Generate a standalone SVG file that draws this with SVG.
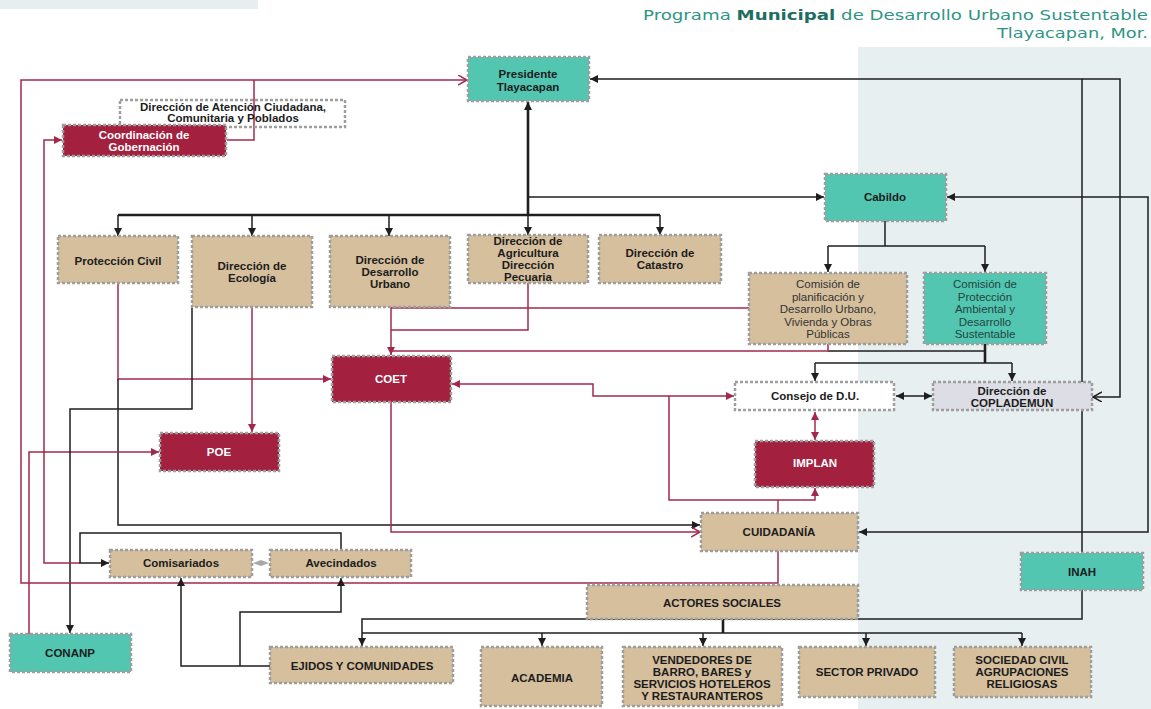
<svg xmlns="http://www.w3.org/2000/svg" width="1151" height="709" viewBox="0 0 1151 709">
<style>
.n{stroke:#9e9e9e;stroke-width:2.5;stroke-dasharray:3 2}
.tan{fill:#d6bf9d}
.crim{fill:#a3203f}
.teal{fill:#52c6b1}
.wh{fill:#ffffff}
.none{fill:none}
.cop{fill:#dcdde5}
.t{font-family:"Liberation Sans",Arial,sans-serif;font-size:11.5px;font-weight:bold;text-anchor:middle;fill:#1c1c1c}
.tw{fill:#ffffff}
.r{font-weight:normal;font-size:11.5px;fill:#333}
.rt{font-weight:normal;font-size:11.5px;fill:#24443f}
.k{stroke:#1e1e1e;stroke-width:1.5;fill:none}
.kt{stroke:#1e1e1e;stroke-width:2.6;fill:none}
.c{stroke:#a3284c;stroke-width:1.5;fill:none}
.ttl{font-family:"DejaVu Sans","Liberation Sans",sans-serif;font-size:14.5px;fill:#2f9585}
</style>
<defs>
<marker id="ak" markerUnits="userSpaceOnUse" markerWidth="10" markerHeight="10" refX="8" refY="4" orient="auto-start-reverse"><path d="M0,0 L8,4 L0,8 z" fill="#1e1e1e"/></marker>
<marker id="ac" markerUnits="userSpaceOnUse" markerWidth="10" markerHeight="10" refX="8" refY="4" orient="auto-start-reverse"><path d="M0,0 L8,4 L0,8 z" fill="#a3284c"/></marker>
<marker id="oc" markerUnits="userSpaceOnUse" markerWidth="12" markerHeight="12" refX="9" refY="5" orient="auto"><path d="M0,0 L9,5 L0,10" fill="none" stroke="#a3284c" stroke-width="1.5"/></marker>
<marker id="ok" markerUnits="userSpaceOnUse" markerWidth="12" markerHeight="12" refX="9" refY="5" orient="auto"><path d="M0,0 L9,5 L0,10" fill="none" stroke="#1e1e1e" stroke-width="1.5"/></marker>
</defs>
<rect x="0" y="0" width="1151" height="709" fill="#ffffff"/>
<rect x="0" y="0" width="258" height="9" fill="#e6eef0"/>
<rect x="858" y="47" width="293" height="662" fill="#e7eff1"/>
<text class="ttl" x="1148" y="20" text-anchor="end" textLength="505" lengthAdjust="spacingAndGlyphs">Programa <tspan font-weight="bold" fill="#1f6e63">Municipal</tspan> de Desarrollo Urbano Sustentable</text>
<text class="ttl" x="1148" y="38" text-anchor="end" textLength="151" lengthAdjust="spacingAndGlyphs">Tlayacapan, Mor.</text>

<g id="connectors">
<path class="kt" d="M528,215 V102" marker-end="url(#ak)"/>
<path class="kt" d="M118,215 H660"/>
<path class="k" d="M118,215 V236" marker-end="url(#ak)"/>
<path class="k" d="M252,215 V236" marker-end="url(#ak)"/>
<path class="k" d="M389,215 V236" marker-end="url(#ak)"/>
<path class="k" d="M528,215 V235" marker-end="url(#ak)"/>
<path class="k" d="M660,215 V235" marker-end="url(#ak)"/>
<path class="k" d="M528,197 H824" marker-end="url(#ak)"/>
<path class="k" d="M1082,553 V79 H590" marker-end="url(#ak)"/>
<path class="k" d="M1082,79 H1120 V397 H1093" marker-end="url(#ok)"/>
<path class="k" d="M947,197 H1148 V532 H859" marker-start="url(#ak)" marker-end="url(#ak)"/>
<path class="k" d="M885,221 V246"/>
<path class="k" d="M828,246 H985"/>
<path class="k" d="M828,246 V272" marker-end="url(#ak)"/>
<path class="k" d="M985,246 V272" marker-end="url(#ak)"/>
<path class="k" d="M828,351 H985"/>
<path class="kt" d="M985,344 V363"/>
<path class="k" d="M815,363 H1012"/>
<path class="k" d="M815,363 V381" marker-end="url(#ak)"/>
<path class="k" d="M1012,363 V381" marker-end="url(#ak)"/>
<path class="k" d="M896,396 H932" marker-start="url(#ak)" marker-end="url(#ak)"/>
<path class="c" d="M749,308 H391"/>
<path class="c" d="M528,283 V330 H391"/>
<path class="c" d="M828,344 V351 H391"/>
<path class="c" d="M391,307 V355" marker-end="url(#ac)"/>
<path class="c" d="M118,283 V379 H331" marker-end="url(#ac)"/>
<path class="k" d="M118,379 V525 H700" marker-end="url(#ak)"/>
<path class="c" d="M252,307 V432" marker-end="url(#ac)"/>
<path class="c" d="M29,634 V452 H159" marker-end="url(#ac)"/>
<path class="k" d="M192,307 V409 H70 V633" marker-end="url(#ak)"/>
<path class="c" d="M734,396 H593 V384 H452" marker-start="url(#ac)" marker-end="url(#ac)"/>
<path class="c" d="M669,396 V500 H815 V488" marker-end="url(#ac)"/>
<path class="c" d="M778,513 V500"/>
<path class="c" d="M815,412 V440" marker-start="url(#ac)" marker-end="url(#ac)"/>
<path class="c" d="M391,402 V532 H700" marker-end="url(#oc)"/>
<path class="c" d="M778,551 V583 H21 V80 H467" marker-end="url(#oc)"/>
<path class="c" d="M254,80 V140 H227"/>
<path class="c" d="M80,563 H44 V140 H62" marker-end="url(#ac)"/>
<path class="k" d="M341,550 V533 H80 V563 H109" marker-end="url(#ak)"/>
<path class="k" d="M270,666 H181 V578" marker-end="url(#ak)"/>
<path class="k" d="M240,666 V612 H341 V578" marker-end="url(#ak)"/>
<polygon points="253,563 261,560 269,563 261,566" fill="#a8a8a8"/>
<path class="k" d="M1082,590 V619 H362 V646" marker-end="url(#ak)"/>
<path class="kt" d="M723,619 V633"/>
<path class="k" d="M362,633 H1022"/>
<path class="k" d="M542,633 V646" marker-end="url(#ak)"/>
<path class="k" d="M703,633 V646" marker-end="url(#ak)"/>
<path class="k" d="M866,633 V646" marker-end="url(#ak)"/>
<path class="k" d="M1022,633 V646" marker-end="url(#ak)"/>
</g>

<g id="presidente"><rect class="n teal" x="468" y="57" width="121" height="44"/><text class="t" x="528" y="78">Presidente</text><text class="t" x="528" y="91">Tlayacapan</text></g>
<g id="atencion"><rect class="n none" x="120" y="100" width="225" height="27"/><text class="t" x="233" y="111">Dirección de Atención Ciudadana,</text><text class="t" x="233" y="122">Comunitaria y Poblados</text></g>
<g id="coordinacion"><rect class="n crim" x="63" y="125" width="163" height="31"/><text class="t tw" x="144" y="139">Coordinación de</text><text class="t tw" x="144" y="151">Gobernación</text></g>
<g id="cabildo"><rect class="n teal" x="825" y="174" width="121" height="47"/><text class="t" x="885" y="201">Cabildo</text></g>
<g id="proteccion-civil"><rect class="n tan" x="58" y="236" width="120" height="47"/><text class="t" x="118" y="265">Protección Civil</text></g>
<g id="ecologia"><rect class="n tan" x="192" y="236" width="120" height="71"/><text class="t" x="252" y="270">Dirección de</text><text class="t" x="252" y="282">Ecología</text></g>
<g id="desarrollo-urbano"><rect class="n tan" x="330" y="236" width="120" height="71"/><text class="t" x="390" y="264">Dirección de</text><text class="t" x="390" y="276">Desarrollo</text><text class="t" x="390" y="288">Urbano</text></g>
<g id="agricultura"><rect class="n tan" x="468" y="235" width="120" height="48"/><text class="t" x="528" y="245">Dirección de</text><text class="t" x="528" y="257">Agricultura</text><text class="t" x="528" y="269">Dirección</text><text class="t" x="528" y="281">Pecuaria</text></g>
<g id="catastro"><rect class="n tan" x="599" y="235" width="122" height="48"/><text class="t" x="660" y="257">Dirección de</text><text class="t" x="660" y="269">Catastro</text></g>
<g id="comision-planificacion"><rect class="n tan" x="749" y="273" width="158" height="71"/><text class="t r" x="828" y="288">Comisión de</text><text class="t r" x="828" y="300.5">planificación y</text><text class="t r" x="828" y="313">Desarrollo Urbano,</text><text class="t r" x="828" y="325.5">Vivienda y Obras</text><text class="t r" x="828" y="338">Públicas</text></g>
<g id="comision-proteccion"><rect class="n teal" x="924" y="273" width="122" height="71"/><text class="t rt" x="985" y="288">Comisión de</text><text class="t rt" x="985" y="300.5">Protección</text><text class="t rt" x="985" y="313">Ambiental y</text><text class="t rt" x="985" y="325.5">Desarrollo</text><text class="t rt" x="985" y="338">Sustentable</text></g>
<g id="coet"><rect class="n crim" x="332" y="356" width="119" height="46"/><text class="t tw" x="391" y="383">COET</text></g>
<g id="consejo"><rect class="n wh" x="735" y="382" width="159" height="28"/><text class="t" x="815" y="400">Consejo de D.U.</text></g>
<g id="coplademun"><rect class="n cop" x="933" y="382" width="159" height="28"/><text class="t" x="1012" y="395">Dirección de</text><text class="t" x="1012" y="407">COPLADEMUN</text></g>
<g id="poe"><rect class="n crim" x="160" y="433" width="119" height="38"/><text class="t tw" x="219" y="456">POE</text></g>
<g id="implan"><rect class="n crim" x="755" y="441" width="119" height="46"/><text class="t tw" x="815" y="467">IMPLAN</text></g>
<g id="cuidadania"><rect class="n tan" x="701" y="513" width="157" height="38"/><text class="t" x="779" y="536">CUIDADANÍA</text></g>
<g id="comisariados"><rect class="n tan" x="110" y="550" width="142" height="27"/><text class="t" x="181" y="567">Comisariados</text></g>
<g id="avecindados"><rect class="n tan" x="270" y="550" width="141" height="27"/><text class="t" x="341" y="567">Avecindados</text></g>
<g id="inah"><rect class="n teal" x="1021" y="553" width="122" height="37"/><text class="t" x="1082" y="576">INAH</text></g>
<g id="actores-sociales"><rect class="n tan" x="587" y="585" width="271" height="34"/><text class="t" x="722" y="607">ACTORES SOCIALES</text></g>
<g id="conanp"><rect class="n teal" x="10" y="634" width="121" height="38"/><text class="t" x="70" y="657">CONANP</text></g>
<g id="ejidos"><rect class="n tan" x="270" y="647" width="183" height="36"/><text class="t" x="362" y="670">EJIDOS Y COMUNIDADES</text></g>
<g id="academia"><rect class="n tan" x="481" y="647" width="121" height="59"/><text class="t" x="542" y="682">ACADEMIA</text></g>
<g id="vendedores"><rect class="n tan" x="623" y="647" width="159" height="59"/><text class="t" x="702" y="664">VENDEDORES DE</text><text class="t" x="702" y="676">BARRO, BARES y</text><text class="t" x="702" y="688">SERVICIOS HOTELEROS</text><text class="t" x="702" y="700">Y RESTAURANTEROS</text></g>
<g id="sector-privado"><rect class="n tan" x="799" y="647" width="136" height="50"/><text class="t" x="867" y="676">SECTOR PRIVADO</text></g>
<g id="sociedad-civil"><rect class="n tan" x="954" y="647" width="137" height="50"/><text class="t" x="1022" y="664">SOCIEDAD CIVIL</text><text class="t" x="1022" y="676">AGRUPACIONES</text><text class="t" x="1022" y="688">RELIGIOSAS</text></g>
</svg>
